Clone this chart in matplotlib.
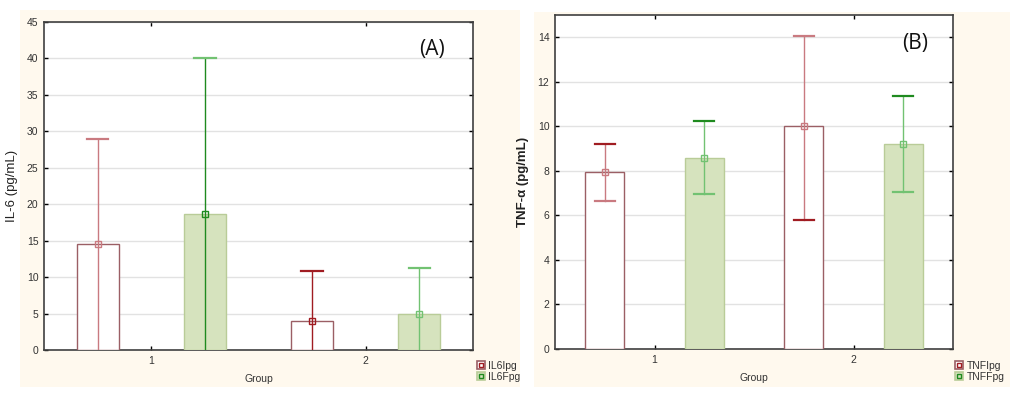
import matplotlib
matplotlib.use("Agg")
import matplotlib.pyplot as plt
from matplotlib.patches import Rectangle, Patch
from matplotlib.lines import Line2D
import numpy as np

plt.rcParams['font.family'] = ['Liberation Sans', 'DejaVu Sans']

groups = [1, 2]
group_labels = ["1", "2"]

# IL-6 panel (A)
il6_initial_mean = [14.6, 4.0]
il6_initial_low = [0.0, 0.0]
il6_initial_high = [29.0, 10.8]
il6_final_mean = [18.7, 5.0]
il6_final_low = [0.0, 0.0]
il6_final_high = [40.0, 11.3]
il6_series = ["IL6Ipg", "IL6Fpg"]

# TNF-alpha panel (B)
tnf_initial_mean = [7.95, 10.0]
tnf_initial_low = [6.65, 5.8]
tnf_initial_high = [9.2, 14.05]
tnf_final_mean = [8.6, 9.2]
tnf_final_low = [6.95, 7.05]
tnf_final_high = [10.25, 11.35]
tnf_series = ["TNFIpg", "TNFFpg"]

W, H = 1024, 398
fig = plt.figure(figsize=(W / 100, H / 100), dpi=100)
fig.patch.set_facecolor('white')

cream = '#FFF9EE'
def px_rect(x0, y0, x1, y1):
    fig.patches.append(Rectangle((x0 / W, 1 - y1 / H), (x1 - x0) / W, (y1 - y0) / H,
                                 transform=fig.transFigure, facecolor=cream,
                                 edgecolor='none', zorder=-10))
px_rect(20, 10, 520, 387)
px_rect(534, 12, 1010, 387)

def ax_at(x0, y0, x1, y1):
    return fig.add_axes([x0 / W, 1 - y1 / H, (x1 - x0) / W, (y1 - y0) / H])

bar_edge_i = '#9B5F65'
bar_face_f = '#D6E3BE'
bar_edge_f = '#B9CC98'
light_red = '#C97A80'
dark_red = '#A01C22'
light_green = '#72C272'
dark_green = '#1F8A1F'

def draw_panel(ax, mi, lo_i, hi_i, mf, lo_f, hi_f, ymax, yticks, ylabel, letter,
               stem_cols, top_cols, bot_cols, series, ylabel_bold, legend_xy):
    ax.set_facecolor('white')
    x = np.array(groups, dtype=float)
    off = 0.25
    wbar = 0.195
    ax.bar(x - off, mi, width=wbar, color='white', edgecolor=bar_edge_i, linewidth=1.0, zorder=3)
    ax.bar(x + off, mf, width=wbar, color=bar_face_f, edgecolor=bar_edge_f, linewidth=1.0, zorder=3)
    means = [mi[0], mf[0], mi[1], mf[1]]
    lows = [lo_i[0], lo_f[0], lo_i[1], lo_f[1]]
    highs = [hi_i[0], hi_f[0], hi_i[1], hi_f[1]]
    xs = [x[0] - off, x[0] + off, x[1] - off, x[1] + off]
    capw = 0.05
    for k in range(4):
        ax.plot([xs[k], xs[k]], [lows[k], highs[k]], color=stem_cols[k], lw=1.0, zorder=4, clip_on=True)
        ax.plot([xs[k] - capw, xs[k] + capw], [highs[k], highs[k]], color=top_cols[k], lw=1.6, zorder=4)
        if lows[k] > 0:
            ax.plot([xs[k] - capw, xs[k] + capw], [lows[k], lows[k]], color=bot_cols[k], lw=1.6, zorder=4)
        ax.plot([xs[k]], [means[k]], marker='s', markersize=4, markerfacecolor='none',
                markeredgecolor=stem_cols[k], markeredgewidth=1.0, zorder=5)
    ax.set_xlim(0.5, 2.5)
    ax.set_ylim(0, ymax)
    ax.set_yticks(yticks)
    ax.set_xticks(groups)
    ax.set_xticklabels(group_labels)
    ax.yaxis.grid(True, color='#E2E2E2', lw=1.0, zorder=0)
    ax.set_axisbelow(True)
    ax.tick_params(axis='both', direction='in', length=3, width=1, labelsize=7.5,
                   labelcolor='#333333', top=True, right=True, pad=4)
    for s in ax.spines.values():
        s.set_color('#404040')
        s.set_linewidth(1.2)
    ax.set_ylabel(ylabel, fontsize=9.5, color='#222222',
                  fontweight='bold' if ylabel_bold else 'normal', labelpad=6)
    ax.set_xlabel('Group', fontsize=7.5, color='#333333', labelpad=6)
    ax.text(0.905, 0.915, letter, transform=ax.transAxes, fontsize=15,
            family=['Open Sans', 'DejaVu Sans'], ha='center', va='center', color='#111111')
    handles = [
        (Patch(facecolor='white', edgecolor=bar_edge_i, lw=1.2),
         Line2D([], [], marker='s', markersize=3, markerfacecolor='none',
                markeredgecolor=dark_red, linestyle='none')),
        (Patch(facecolor=bar_face_f, edgecolor=bar_edge_f, lw=1.2),
         Line2D([], [], marker='s', markersize=3, markerfacecolor='none',
                markeredgecolor=dark_green, linestyle='none')),
    ]
    fig.legend(handles, series, loc='upper left',
               bbox_to_anchor=(legend_xy[0] / W, 1 - legend_xy[1] / H),
               frameon=False, fontsize=7.5, handlelength=0.8, handleheight=0.8,
               handletextpad=0.3, labelspacing=0.1, borderpad=0, borderaxespad=0,
               labelcolor='#333333')

axA = ax_at(44, 22, 473, 350)
draw_panel(axA, il6_initial_mean, il6_initial_low, il6_initial_high,
           il6_final_mean, il6_final_low, il6_final_high,
           45, list(range(0, 46, 5)), 'IL-6 (pg/mL)', '(A)',
           stem_cols=[light_red, dark_green, dark_red, light_green],
           top_cols=[light_red, light_green, dark_red, light_green],
           bot_cols=[light_red, light_green, dark_red, light_green],
           series=il6_series, ylabel_bold=False, legend_xy=(477, 361))

axB = ax_at(555, 15, 953, 349)
draw_panel(axB, tnf_initial_mean, tnf_initial_low, tnf_initial_high,
           tnf_final_mean, tnf_final_low, tnf_final_high,
           15, list(range(0, 15, 2)), 'TNF-α (pg/mL)', '(B)',
           stem_cols=[light_red, light_green, light_red, light_green],
           top_cols=[dark_red, dark_green, light_red, dark_green],
           bot_cols=[light_red, light_green, dark_red, light_green],
           series=tnf_series, ylabel_bold=True, legend_xy=(955, 361))

fig.savefig('out.png', dpi=100, facecolor='white')
